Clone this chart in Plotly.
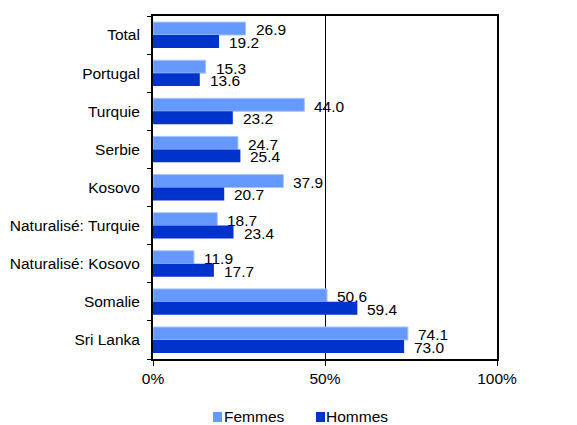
import plotly.graph_objects as go

categories = ["Total", "Portugal", "Turquie", "Serbie", "Kosovo",
              "Naturalisé: Turquie", "Naturalisé: Kosovo", "Somalie", "Sri Lanka"]
femmes = [26.9, 15.3, 44.0, 24.7, 37.9, 18.7, 11.9, 50.6, 74.1]
hommes = [19.2, 13.6, 23.2, 25.4, 20.7, 23.4, 17.7, 59.4, 73.0]
series_names = ["Femmes", "Hommes"]
series_colors = ["#6699FF", "#0033CC"]
x_ticks = [0, 50, 100]
x_ticklabels = ["0%", "50%", "100%"]

pos = list(range(len(categories)))
font = "Liberation Sans, Arial, sans-serif"
fs = 15.5

fig = go.Figure()
fig.add_trace(go.Bar(y=pos, x=femmes, orientation="h", name=series_names[0],
                     marker=dict(color=series_colors[0], line=dict(color="#A9C4FF", width=1))))
fig.add_trace(go.Bar(y=pos, x=hommes, orientation="h", name=series_names[1],
                     marker=dict(color=series_colors[1], line=dict(width=0))))

ann = []
for i, (f, h) in enumerate(zip(femmes, hommes)):
    ann.append(dict(x=f, y=i - 0.16, text=f"{f:.1f}", showarrow=False, xanchor="left",
                    xshift=8, yshift=-1, font=dict(size=fs, color="#000", family=font)))
    ann.append(dict(x=h, y=i + 0.17, text=f"{h:.1f}", showarrow=False, xanchor="left",
                    xshift=8, yshift=-1, font=dict(size=fs, color="#000", family=font)))

# custom legend (squares + labels) below the plot
leg_sq_x = [0.1744, 0.4738]
leg_txt_x = [0.2006, 0.4970]
shapes = []
for name, col, sx, tx in zip(series_names, series_colors, leg_sq_x, leg_txt_x):
    shapes.append(dict(type="rect", xref="paper", yref="paper", x0=sx, x1=sx + 0.0262,
                       y0=-0.1837, y1=-0.1545, fillcolor=col, line=dict(width=0)))
    ann.append(dict(x=tx, y=-0.169, xref="paper", yref="paper", text=name, showarrow=False,
                    xanchor="left", yanchor="middle", font=dict(size=fs, color="#000", family=font)))

fig.update_layout(
    width=569, height=417,
    margin=dict(l=145, r=80, t=8, b=66, autoexpand=False),
    paper_bgcolor="white", plot_bgcolor="white",
    barmode="group", bargap=0.32, bargroupgap=0,
    font=dict(family=font, size=fs, color="#000"),
    annotations=ann, shapes=shapes,
    showlegend=False,
    xaxis=dict(range=[0, 100], tickvals=x_ticks, ticktext=x_ticklabels,
               showgrid=True, gridcolor="#000", gridwidth=1,
               zeroline=False, showline=True, linecolor="#000",
               linewidth=1.5, mirror=True, ticks="outside", ticklen=5, tickcolor="#000",
               tickfont=dict(size=fs), automargin=False),
    yaxis=dict(range=[8.5, -0.5], tickvals=pos, ticktext=categories,
               showgrid=False, zeroline=False, showline=True, linecolor="#000",
               linewidth=2, mirror=True, ticks="", ticklen=0, ticklabelstandoff=8,
               minor=dict(ticks="outside", ticklen=4, tickcolor="#000",
                          tick0=0.5, dtick=1, showgrid=False),
               tickfont=dict(size=fs), automargin=False),
)

fig.write_html("out.html")
